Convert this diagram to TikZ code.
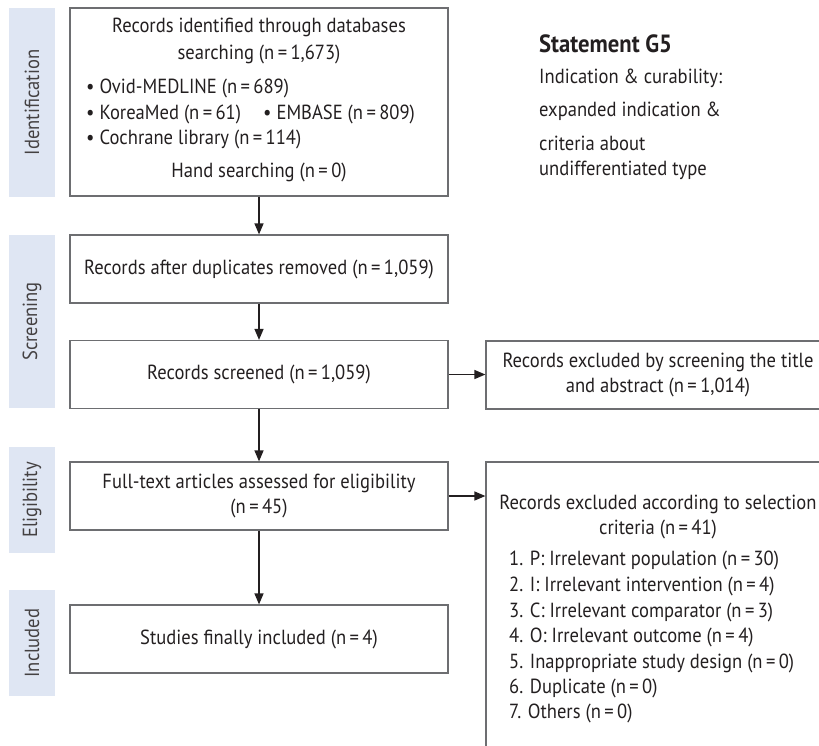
\documentclass[tikz,border=0pt]{standalone}
\usepackage{fontspec}
\setmainfont[FakeStretch=0.91]{PT Sans}
\usetikzlibrary{arrows.meta}
\definecolor{txt}{HTML}{231F20}
\definecolor{side}{HTML}{DFE6F3}
\definecolor{frame}{HTML}{6D6E71}
\newcommand{\eqn}{\,=\,}
\begin{document}
\begin{tikzpicture}[x=1bp,y=-1bp, font=\fontsize{20.5}{26}\selectfont, text=txt,
 box/.style={draw=frame, line width=1.2bp, minimum width=378bp, minimum height=68bp, inner sep=0, align=center},
 rbox/.style={draw=frame, line width=1.2bp, minimum width=344bp, inner sep=0, align=center},
 sidebox/.style={fill=side, rotate=90, minimum height=46bp, inner sep=0, text=txt!85},
 arr/.style={draw=txt, line width=1.3bp, -{Triangle[length=11bp,width=9bp]}},
 ln/.style={anchor=base, inner sep=0},
 lnw/.style={anchor=base west, inner sep=0}]
\useasboundingbox (0,0) rectangle (819,746);
\clip (0,0) rectangle (819,746);
% side labels
\node[sidebox, minimum width=189bp] (s1) at (32,102.5) {Identification};
\node[sidebox, minimum width=173bp] (s2) at (32,321.5) {Screening};
\node[sidebox, minimum width=106bp] (s3) at (32,500) {Eligibility};
\node[sidebox, minimum width=106bp] (s4) at (32,643) {Included};
% main boxes
\node[box, minimum height=188bp] (b1) at (259,102) {};
\node[ln] (t1a) at (259,33) {Records identified through databases};
\node[ln] (t1b) at (259,60) {searching (n\eqn1,673)};
\node[lnw] (t1c) at (86,93) {• Ovid-MEDLINE (n\eqn689)};
\node[lnw] (t1d) at (86,119) {• KoreaMed (n\eqn61)};
\node[lnw] (t1e) at (263,119) {• EMBASE (n\eqn809)};
\node[lnw] (t1f) at (86,144) {• Cochrane library (n\eqn114)};
\node[ln] (t1g) at (259,177) {Hand searching (n\eqn0)};
\node[box] (b2) at (259,269) {Records after duplicates removed (n\eqn1,059)};
\node[box] (b3) at (259,374.5) {Records screened (n\eqn1,059)};
\node[box] (b4) at (259,496) {Full-text articles assessed for eligibility\\(n\eqn45)};
\node[box] (b5) at (259,639) {Studies finally included (n\eqn4)};
% right boxes
\node[rbox, minimum height=68bp] (r1) at (658,375) {Records excluded by screening the title\\and abstract (n\eqn1,014)};
\node[rbox, minimum height=308bp] (r2) at (658,616) {};
\node[ln] (r2a) at (658,509) {Records excluded according to selection};
\node[ln] (r2b) at (658,534) {criteria (n\eqn41)};
\node[lnw] (l1) at (509,565) {1. P: Irrelevant population (n\eqn30)};
\node[lnw] (l2) at (509,591) {2. I: Irrelevant intervention (n\eqn4)};
\node[lnw] (l3) at (509,617) {3. C: Irrelevant comparator (n\eqn3)};
\node[lnw] (l4) at (509,642) {4. O: Irrelevant outcome (n\eqn4)};
\node[lnw] (l5) at (509,668) {5. Inappropriate study design (n\eqn0)};
\node[lnw] (l6) at (509,693) {6. Duplicate (n\eqn0)};
\node[lnw] (l7) at (509,718) {7. Others (n\eqn0)};
% statement
\node[lnw, font=\fontsize{25}{30}\selectfont\bfseries] (g1) at (539,53) {Statement G5};
\node[lnw] (g2) at (539,83) {Indication \& curability:};
\node[lnw] (g3) at (539,116) {expanded indication \&};
\node[lnw] (g4) at (539,150) {criteria about};
\node[lnw] (g5) at (539,175) {undifferentiated type};
% arrows
\draw[arr] (b1) -- (b2);
\draw[arr] (b2) -- (b3);
\draw[arr] (b3) -- (b4);
\draw[arr] (b4) -- (b5);
\draw[arr] (b3.east) -- (b3.east -| r1.west);
\draw[arr] (b4.east) -- (b4.east -| r2.west);
\end{tikzpicture}
\end{document}
